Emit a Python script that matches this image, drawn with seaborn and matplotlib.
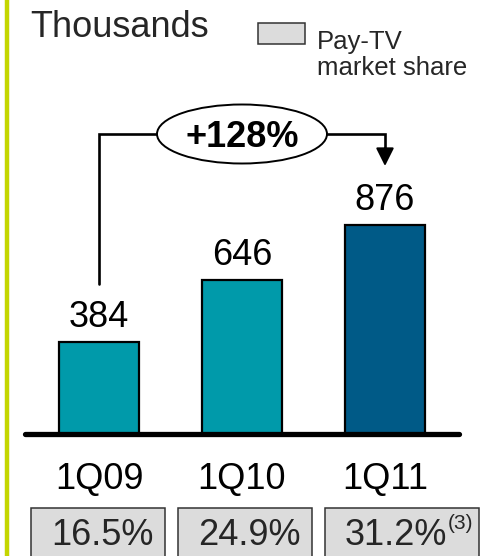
import matplotlib
matplotlib.use("Agg")
import matplotlib.pyplot as plt
from matplotlib.patches import Ellipse, Rectangle
import seaborn as sns
import pandas as pd

# Subscribers (thousands) and pay-TV market share per quarter
quarters = ["1Q09", "1Q10", "1Q11"]
subscribers = [384, 646, 876]
market_share = ["16.5%", "24.9%", "31.2%"]
share_notes = ["", "", "(3)"]
growth_label = "+128%"

sns.set_theme(style="white")
plt.rcParams["font.family"] = ["Liberation Sans", "DejaVu Sans"]

W, H, DPI = 483, 556, 100
fig = plt.figure(figsize=(W / DPI, H / DPI), dpi=DPI)
fig.patch.set_facecolor("white")

# pixel-based layout layer for headings, legend and share boxes
lay = fig.add_axes([0, 0, 1, 1])
lay.set_xlim(0, W)
lay.set_ylim(H, 0)
lay.axis("off")

# bar chart axes: baseline near the bottom, three category slots
base_px = 433.5
px_per_unit = 0.2375
ax = fig.add_axes([27.5 / W, (H - base_px) / H, 429 / W, base_px / H])
ax.patch.set_alpha(0)
ax.set_ylim(0, base_px / px_per_unit)
ax.set_xlim(-0.5, 2.5)

df = pd.DataFrame({"quarter": quarters, "subs": subscribers})
teal, navy = "#009aaa", "#005a87"
sns.barplot(data=df, x="quarter", y="subs", hue="quarter",
            palette=[teal, teal, navy], legend=False, width=0.56,
            edgecolor="black", linewidth=1.6, saturation=1, ax=ax)
ax.set_xlim(-0.5, 2.5)
ax.set_ylim(0, base_px / px_per_unit)
ax.axis("off")

# thick baseline
ax.plot([-0.52, 2.52], [0, 0], color="black", lw=3.8,
        solid_capstyle="round", clip_on=False, zorder=5)

# value labels and category labels
for i, (q, v) in enumerate(zip(quarters, subscribers)):
    ax.annotate(f"{v}", xy=(i, v), xytext=(0, 15), textcoords="offset pixels",
                ha="center", va="baseline", fontsize=26, color="black")
    ax.annotate(q, xy=(i, 0), xytext=(0, -56), textcoords="offset pixels",
                ha="center", va="baseline", fontsize=26, color="black",
                annotation_clip=False)

# growth bracket from the first bar to the last
def to_val(px_from_top):
    return (base_px - px_from_top) / px_per_unit

y_top = to_val(134)
ax.plot([0, 0, 2, 2], [to_val(284), y_top, y_top, to_val(150)],
        color="black", lw=1.9, clip_on=False, zorder=3,
        solid_joinstyle="miter")
ax.annotate("", xy=(2, to_val(166)), xytext=(2, to_val(148)),
            arrowprops=dict(arrowstyle="-|>,head_length=1.1,head_width=0.55",
                            color="black", lw=1.5, shrinkA=0, shrinkB=0,
                            mutation_scale=10),
            annotation_clip=False)
ax.add_patch(Ellipse((1, y_top), width=170 / 143, height=59 / px_per_unit,
                     facecolor="white", edgecolor="black", lw=1.4,
                     zorder=4, clip_on=False))
ax.annotate(growth_label, xy=(1, y_top), xytext=(0, -13),
            textcoords="offset pixels", ha="center", va="baseline",
            fontsize=26, fontweight="bold", color="black", zorder=6,
            annotation_clip=False)

# left accent rule
lay.plot([6.5, 6.5], [0, H], color="#c4d600", lw=3.2, solid_capstyle="butt")

# heading and legend
lay.text(30, 37, "Thousands", fontsize=26, ha="left", va="baseline")
lay.add_patch(Rectangle((258, 22.5), 47, 21.5, facecolor="#dcdcdc",
                        edgecolor="#333333", lw=1.1))
lay.text(317, 49, "Pay-TV", fontsize=18.5, ha="left", va="baseline")
lay.text(317, 75, "market share", fontsize=18.5, ha="left", va="baseline")

# market share boxes under the categories
box_left = [31, 178, 325]
box_right = [165, 312, 479]
for l, r, s, note in zip(box_left, box_right, market_share, share_notes):
    lay.add_patch(Rectangle((l, 508), r - l, 60, facecolor="#dcdcdc",
                            edgecolor="#333333", lw=1.1))
    t = lay.text(l + 20, 545, s, fontsize=26, ha="left", va="baseline")
    if note:
        lay.annotate(note, xy=(1.0, 529), xycoords=(t, "data"),
                     ha="left", va="baseline", fontsize=15)

fig.savefig("out.png", dpi=DPI, facecolor="white")
